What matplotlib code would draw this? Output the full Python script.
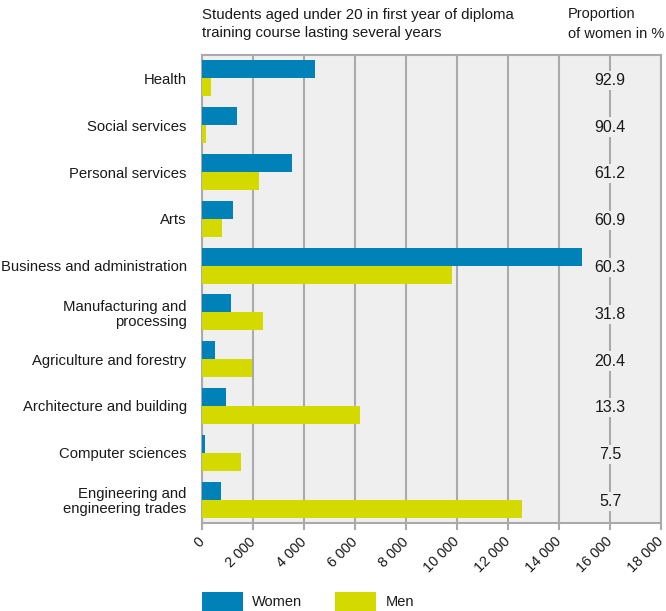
import matplotlib
matplotlib.use("Agg")
import matplotlib.pyplot as plt
from matplotlib.patches import Rectangle
import numpy as np

plt.rcParams['font.family'] = ['Liberation Sans', 'DejaVu Sans']

categories = ["Health", "Social services", "Personal services", "Arts",
              "Business and administration", "Manufacturing and\nprocessing",
              "Agriculture and forestry", "Architecture and building",
              "Computer sciences", "Engineering and\nengineering trades"]
women = [4420, 1360, 3520, 1200, 14890, 1130, 510, 940, 125, 740]
men = [340, 150, 2230, 770, 9800, 2390, 1960, 6190, 1530, 12540]
share_women = ["92.9", "90.4", "61.2", "60.9", "60.3", "31.8", "20.4", "13.3", "7.5", "5.7"]
xticks = list(range(0, 18001, 2000))
xtick_labels = ["0", "2 000", "4 000", "6 000", "8 000", "10 000", "12 000",
                "14 000", "16 000", "18 000"]

BLUE = "#0082B9"
LIME = "#D4D900"
BG = "#EFEFEF"
GRID = "#AAAAAA"
TXT = "#1a1a1a"

W, H = 666, 611
fig = plt.figure(figsize=(W / 100, H / 100), dpi=100)
ax = fig.add_axes([202 / W, 1 - 523 / H, (661 - 202) / W, (523 - 55) / H])
ax.set_facecolor(BG)

n = len(categories)
y = np.arange(n)
bh = 0.383
ax.barh(y - bh / 2, women, height=bh, color=BLUE, zorder=3)
ax.barh(y + bh / 2, men, height=bh, color=LIME, zorder=3)

ax.set_xlim(0, 18000)
ax.set_ylim(n - 0.5, -0.5)
ax.set_xticks(xticks)
ax.set_xticklabels(xtick_labels, rotation=45, ha="right", va="center",
                   rotation_mode="anchor", fontsize=10.4, color=TXT)
ax.tick_params(axis="x", length=5, width=1.5, color=GRID, pad=7)
ax.set_yticks(y)
ax.set_yticklabels(categories, fontsize=10.7, color=TXT, ha="right",
                   multialignment="right", linespacing=1.1)
ax.tick_params(axis="y", length=0, pad=11)
ax.xaxis.grid(True, color=GRID, linewidth=1.5, zorder=1)
ax.set_axisbelow(True)
for s in ax.spines.values():
    s.set_color(GRID)
    s.set_linewidth(1.5)

for yi, label in zip(y, share_women):
    ax.text(16000, yi + 0.04, label, ha="center", va="center", fontsize=11.5,
            color=TXT, zorder=4,
            bbox=dict(facecolor=BG, edgecolor="none", pad=1.5))

fig.text(202 / W, 1 - 24 / H,
         "Students aged under 20 in first year of diploma\ntraining course lasting several years",
         ha="left", va="center", fontsize=10.8, color=TXT, linespacing=1.45)
fig.text(568 / W, 1 - 24 / H, "Proportion\nof women in %",
         ha="left", va="center", fontsize=10.5, color=TXT, linespacing=1.5)

# legend
fig.patches.append(Rectangle((202 / W, 0), 41 / W, 19 / H, transform=fig.transFigure,
                             facecolor=BLUE, edgecolor="none"))
fig.text(252 / W, 1 - 602 / H, "Women", ha="left", va="center", fontsize=10.5, color=TXT)
fig.patches.append(Rectangle((335 / W, 0), 41 / W, 19 / H, transform=fig.transFigure,
                             facecolor=LIME, edgecolor="none"))
fig.text(386 / W, 1 - 602 / H, "Men", ha="left", va="center", fontsize=10.5, color=TXT)

fig.savefig("out.png", dpi=100)
